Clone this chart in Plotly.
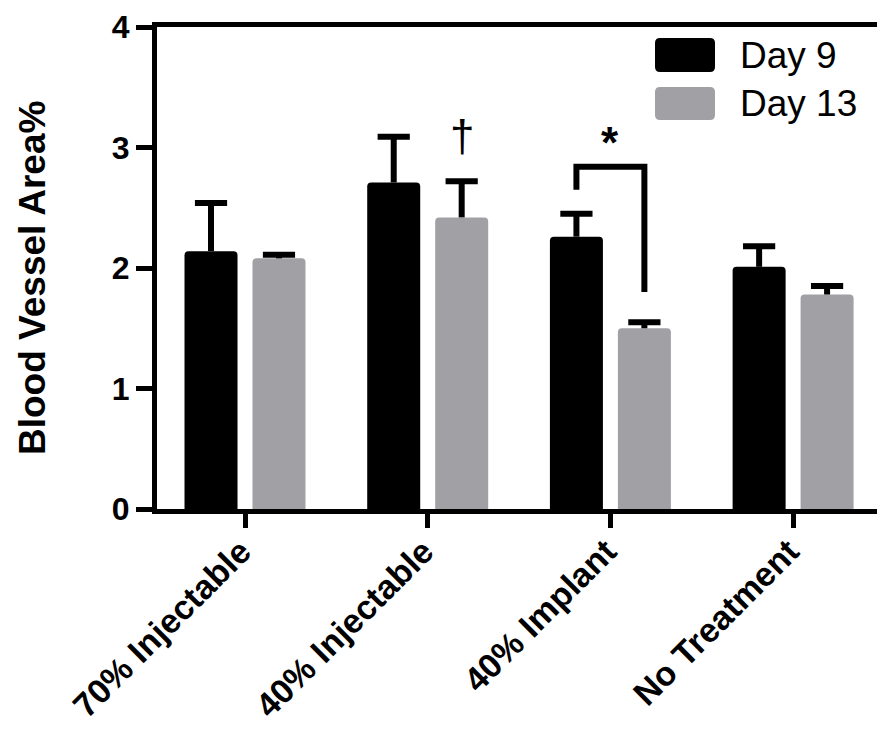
import plotly.graph_objects as go

categories = ["70% Injectable", "40% Injectable", "40% Implant", "No Treatment"]
day9_mean = [2.14, 2.71, 2.26, 2.01]
day9_err = [0.40, 0.38, 0.19, 0.17]
day13_mean = [2.08, 2.42, 1.50, 1.78]
day13_err = [0.03, 0.30, 0.05, 0.07]
series_names = ["Day 9", "Day 13"]
y_ticks = [0, 1, 2, 3, 4]

# significance annotations
bracket_top = 2.84
bracket_left_end = 2.65
bracket_right_end = 1.80
star_y = 3.04
dagger_y = 3.10

BLACK = "#000000"
GRAY = "#a1a1a5"
FONT = "Arial, Liberation Sans, Helvetica, sans-serif"

W, H = 877, 729
ML, MR, MT, MB = 157, 0, 27, 220
PW, PH = W - ML - MR, H - MT - MB

BARGAP = 0.256
BARGROUPGAP = 0.22
slot = (1 - BARGAP) / 2  # width of one bar slot in category units

fig = go.Figure()
series = [(series_names[0], day9_mean, day9_err, BLACK, -slot / 2),
          (series_names[1], day13_mean, day13_err, GRAY, slot / 2)]
for name, mean, err, col, off in series:
    fig.add_trace(go.Bar(
        x=list(range(len(categories))), y=mean, name=name,
        marker=dict(color=col, line=dict(width=0), cornerradius=4),
        error_y=dict(type="data", symmetric=False, array=err,
                     arrayminus=[0] * len(err), color=BLACK,
                     thickness=6, width=0),
        showlegend=False,
    ))
for name, mean, err, col, off in series:
    # error-bar caps (upper only)
    fig.add_trace(go.Scatter(
        x=[i + off for i in range(len(categories))],
        y=[m + e for m, e in zip(mean, err)],
        mode="markers",
        marker=dict(symbol="line-ew", size=23, color=BLACK,
                    line=dict(color=BLACK, width=6)),
        showlegend=False, hoverinfo="skip",
    ))

# significance bracket between 40% Implant Day 9 and Day 13
xl = 2 - slot / 2
xr = 2 + slot / 2
fig.add_shape(type="path",
              path=f"M {xl} {bracket_left_end} L {xl} {bracket_top} L {xr} {bracket_top} L {xr} {bracket_right_end}",
              xref="x", yref="y", line=dict(color=BLACK, width=6))
fig.add_annotation(x=2, y=star_y, xref="x", yref="y", text="<b>*</b>",
                   showarrow=False, font=dict(family=FONT, size=44, color=BLACK),
                   yanchor="middle")
fig.add_annotation(x=1 + slot / 2, y=dagger_y, xref="x", yref="y", text="†",
                   showarrow=False, font=dict(family=FONT, size=44, color=BLACK),
                   yanchor="middle")

# custom legend with large rounded swatches
def px2paper(px, py):
    return (px - ML) / PW, (H - MB - py) / PH

def rounded_rect(x0, y0, x1, y1, r=5):
    rx = r / PW
    ry = r / PH
    X0, Y0 = px2paper(x0, y1)
    X1, Y1 = px2paper(x1, y0)
    return (f"M {X0+rx} {Y0} L {X1-rx} {Y0} Q {X1} {Y0} {X1} {Y0+ry} "
            f"L {X1} {Y1-ry} Q {X1} {Y1} {X1-rx} {Y1} L {X0+rx} {Y1} "
            f"Q {X0} {Y1} {X0} {Y1-ry} L {X0} {Y0+ry} Q {X0} {Y0} {X0+rx} {Y0} Z")

legend_rows = [(series_names[0], BLACK, 38, 72), (series_names[1], GRAY, 87, 120)]
for name, col, y0, y1 in legend_rows:
    fig.add_shape(type="path", path=rounded_rect(655, y0, 715, y1),
                  xref="paper", yref="paper", fillcolor=col, line=dict(width=0))
    tx, ty = px2paper(738, (y0 + y1) / 2)
    fig.add_annotation(x=tx, y=ty, xref="paper", yref="paper", text=name,
                       showarrow=False, xanchor="left", yanchor="middle",
                       font=dict(family=FONT, size=37, color=BLACK))

# y axis title
tx, ty = px2paper(32, 278)
fig.add_annotation(x=tx, y=ty, xref="paper", yref="paper",
                   text="<b>Blood Vessel Area%</b>", textangle=-90,
                   showarrow=False, xanchor="center", yanchor="middle",
                   font=dict(family=FONT, size=37, color=BLACK))

left = -(245 - ML) / 182.7
right = (W - 245) / 182.7

fig.update_layout(
    width=W, height=H,
    margin=dict(l=ML, r=MR, t=MT, b=MB, pad=0, autoexpand=False),
    paper_bgcolor="white", plot_bgcolor="white",
    barmode="group", bargap=BARGAP, bargroupgap=BARGROUPGAP,
    font=dict(family=FONT, color=BLACK),
    xaxis=dict(
        range=[left, right], tickmode="array",
        tickvals=list(range(len(categories))),
        ticktext=[f"<b>{c}</b>" for c in categories],
        tickangle=-45, tickfont=dict(family=FONT, size=34, color=BLACK),
        ticklabelstandoff=-10, ticklabelshift=-4,
        showline=True, linecolor=BLACK, linewidth=5, mirror=True,
        ticks="outside", ticklen=14, tickwidth=5, tickcolor=BLACK,
        showgrid=False, zeroline=False, fixedrange=True, automargin=False,
    ),
    yaxis=dict(
        range=[0, 4], tickmode="array", tickvals=y_ticks,
        ticktext=[f"<b>{v}</b>" for v in y_ticks],
        tickfont=dict(family=FONT, size=32, color=BLACK),
        showline=True, linecolor=BLACK, linewidth=5,
        ticks="outside", ticklen=16, tickwidth=5, tickcolor=BLACK,
        showgrid=False, zeroline=False, fixedrange=True, automargin=False,
    ),
)

fig.write_html("out.html", config={"displayModeBar": False},
               post_script="document.body.style.margin='0';document.body.style.overflow='hidden';")
